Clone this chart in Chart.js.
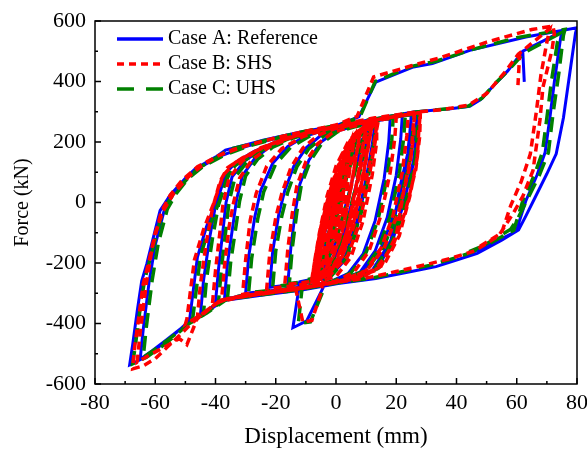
<!DOCTYPE html>
<html><head><meta charset="utf-8">
<script src="https://cdn.jsdelivr.net/npm/chart.js@4/dist/chart.umd.min.js"></script>
<style>html,body{margin:0;padding:0;background:#fff}#c{display:block}</style>
</head><body>
<canvas id="c" width="587" height="452"></canvas>
<script>
const seriesNames = ['Case A: Reference', 'Case B: SHS', 'Case C: UHS'];
const seriesColors = ['#0000ff', '#ff0000', '#008000'];
const xTickValues = [-80, -60, -40, -20, 0, 20, 40, 60, 80];
const xMinorValues = [-70, -50, -30, -10, 10, 30, 50, 70];
const yTickValues = [-600, -400, -200, 0, 200, 400, 600];
const yMinorValues = [-500, -300, -100, 100, 300, 500];

// Case A: Reference (displacement mm, force kN)
const caseA_disp = [0,2,3,1,-1,-2,0,3,5,3,0,-3,-4,-2,2,6,7,5,1,-3,-5,-6,-4,0,4,8,10,8,4,0,-4,-7,-8,-6,-2,3,7,11,12,10,7,3,-1,-5,-12,-14.3,-9.7,-4.3,-2,1,4,8,13,
 12,10,7,3,-3,-10,-16,
 -15,-13.5,-12,-9,-5,0,6,13,
 12,10,7,3,-2,-8,-15,-22,
 -21,-19,-17,-14,-10,-5,0,6,12,18,
 17.5,16,13,9,4,-2,-10,-20,-30,
 -29,-27,-25,-21,-16,-10,-3,4,12,22,
 21.5,20,17,13,8,0,-10,-20,-30,-37,
 -36,-34,-33,-31,-27,-22,-15,-6,4,14,25,
 24.8,23.5,20,15,9,1,-9,-20,-31,-40,
 -39,-37.5,-36.5,-34.5,-30,-24,-16,-6,4,14,25,
 24.5,23.8,21,18.2,13,6,-4,-15,-28,-37,-41,-45,
 -44,-42,-40,-37,-35,-30,-24,-16,-6,5,16,27,
 26.5,26,23,19,14,8,0,-12,-24,-37,-44,-49,
 -48.5,-46,-43,-39.5,-36.7,-33,-27,-20,-10,0,10,20,27,
 26.8,25.5,22,18,12,5,-5,-15,-28,-38,-45,-50,-56,-61,-65,
 -64,-62,-60,-57,-54,-50,-45,-38,-30,-20,-10,0,7.6,
 13.2,25.7,32,44.4,63,80,
 79.5,77.5,75.5,73.1,70,66,63,60.6,55,46.9,40,33.2,25,13.2,0.7,-11.8,-24.2,-36.7,-40,-44,-49,-53,-58,-64,-68.5,
 -67.5,-66,-64.5,-62.8,-60.5,-58.4,-55,-50,-46.7,-40,-36.7,-30,-24.2,-11.7,0.7,13.2,25.7,38,44.4,48,51.9,57,62,75,
 74.5,72.5,71,69.4,66.7,63,59.8,52,45,
 null,62,62.5];
const caseA_force = [0,100,140,40,-70,-120,-20,110,190,100,-50,-170,-200,-110,60,200,228,150,-20,-160,-225,-240,-160,-10,140,235,250,170,20,-130,-220,-252,-260,-180,-40,120,215,255,262,190,70,-90,-200,-248,-262,-414,-391,-282,-150,-10,110,200,262,
 190,80,-60,-180,-240,-262,-270,
 -150,-30,60,140,200,235,252,265,
 190,70,-80,-190,-245,-262,-272,-280,
 -160,-40,40,120,180,222,245,258,268,278,
 200,80,-60,-170,-235,-262,-278,-290,-300,
 -180,-50,40,130,185,220,242,256,270,287,
 210,90,-50,-160,-230,-262,-280,-295,-308,-318,
 -200,-60,10,90,145,185,215,240,258,274,292,
 220,120,-20,-150,-228,-258,-276,-292,-306,-330,
 -220,-90,0,85,140,182,213,238,257,275,292,
 230,162,40,-130,-220,-252,-270,-288,-305,-320,-345,-372,
 -260,-120,-10,80,118,145,180,212,238,258,278,296,
 240,150,20,-120,-215,-248,-265,-285,-302,-320,-370,-395,
 -380,-180,-80,7,96,135,170,200,230,250,268,283,293,
 230,120,-20,-130,-225,-255,-272,-290,-306,-325,-375,-405,-452,-490,-518,
 -420,-260,-140,-25,28,78,118,155,185,212,235,254,283,
 398,448,459,503,547,578,
 560,420,280,161,95,15,-45,-91,-125,-168,-190,-212,-228,-251,-268,-290,-306,-323,-340,-372,-394,-430,-471,-515,-537,
 -470,-360,-260,-203,-110,-27,25,80,112,150,173,190,206,233,255,277,299,310,318,340,382,435,500,565,
 540,400,280,165,90,5,-95,-135,-165,
 null,500,399];

// Case B: SHS
const caseB_disp = [0,1.5,1,0,-1,-0.5,0.5,
 1.6,1,0,-1.1,-0.5,0.8,
 2,3,2.5,1,-1,-2,-1.5,0,1.5,
 3.1,2.4,0.8,-1,-2.1,-1.4,0.2,2,
 4.5,3.8,2,0,-3,-2.5,-1,1,3,
 4.6,3.6,1.8,-0.5,-3.1,-2.3,-0.5,2,3.5,
 6,5.2,3.3,1,-2,-4.5,-3.8,-2,0.5,3,5,
 6.1,5,3,0.5,-2.5,-4.6,-3.5,-1.5,1.5,4,
 8,7,5,2.5,-1,-4,-6,-5.2,-3.5,-1,2,5,
 8.1,6.8,4.6,2,-1.5,-4.5,-6.1,-5,-3,0,3,6,
 10,9,7,4,1,-3,-7,-6.2,-4.5,-2,1,4,7,
 10.1,8.8,6.6,3.5,0,-4,-7.1,-6,-4,-1,2,6,
 12,11,9,6,2,-3,-8,-7.2,-5.5,-3,0,4,8,
 12.2,10.8,8.5,5,1,-4,-8.2,-7,-5,-2,2,6,10,14,
 13,11,8,5,1,-3,-6,-5.5,-4,-2,1,5,9,11,
 10,8,6,3,-1,-5,-7,-6,-4,-1,3,7,10,12,
 11,9.5,7.5,4,0,-4,-6.5,-5,-3,0,4,8,11,13.5,
 13.5,12,9,5,0,-6,-13.5,-11,-8,-5,-3,0,4,8,13.5,
 13,11,8,4,-2,-9,-17,
 -16,-14.5,-13,-10,-6,-1,5,13.5,
 13.5,12,9,5,0,-6,-14,-23,
 -22,-20,-18,-15,-11,-6,0,7,13,20,
 19.5,18,15,11,6,0,-10,-20,-31,
 -30,-28.5,-26.5,-23,-18,-11,-3,5,14,24,
 23.5,22,19,15,10,2,-8,-20,-30,-38,
 -37,-35.5,-34,-32,-28,-22,-14,-5,5,15,26,
 25.8,24.5,21,16,10,2,-8,-20,-31,-41,
 -40,-38.5,-37.5,-35.5,-31,-25,-16,-6,5,15,26,
 25.5,25,22.5,20,15,7,-3,-15,-27,-38,-42,-46,
 -45,-43,-41,-38.5,-36,-31,-24,-15,-5,6,17,28,
 27.5,27,24.5,21,16,9,0,-12,-25,-38,-45,-50,
 -49.5,-47,-44,-40.5,-37.5,-33.5,-27,-20,-10,0,10,20,28,
 27.8,26.5,23,19,13,5,-5,-15,-28,-39,-46,-49.5,-52,-57,-62,-66,
 -65,-63,-61,-58,-55,-51,-46,-39,-30,-20,-10,0,7,
 12.5,25,35,50,65,72,
 72.5,71.7,68.7,67.7,65.4,62,58.8,54,46,38,30,20,10,0,-12,-24,-36,-40,-44,-48,-52,-56,-60,-64,-67.5,
 -67,-65.5,-64,-62,-60,-57.5,-54,-49,-45,-39,-35,-29,-22,-10,1,13,26,36,44,50,56,60.5,71,
 70,68,66.5,64.5,61.5,58,55,47,
 null,61,60.4];
const caseB_force = [0,80,30,-30,-60,-20,30,
 85,25,-35,-65,-15,40,
 90,150,90,-20,-90,-120,-70,0,80,
 152,80,-30,-95,-125,-60,20,100,
 190,120,0,-100,-170,-110,-20,70,150,
 193,110,-10,-120,-172,-100,10,110,165,
 215,150,20,-100,-180,-215,-150,-40,70,160,200,
 218,140,0,-120,-190,-218,-130,-10,110,185,
 235,170,50,-80,-180,-225,-240,-170,-60,60,150,210,
 238,160,30,-100,-195,-230,-242,-160,-40,80,170,220,
 250,190,70,-80,-180,-232,-255,-190,-80,40,140,200,235,
 252,180,50,-100,-200,-240,-257,-180,-60,70,160,225,
 262,205,90,-60,-180,-240,-262,-200,-100,20,120,200,240,
 265,195,70,-90,-200,-250,-264,-190,-80,40,150,225,255,268,
 215,120,0,-110,-200,-240,-255,-200,-110,-10,100,190,240,255,
 210,110,0,-120,-215,-250,-258,-190,-70,50,160,225,250,260,
 200,110,20,-110,-210,-245,-256,-150,-40,70,175,232,255,268,
 200,90,-60,-180,-245,-262,-280,-396,-390,-300,-180,-40,100,200,268,
 200,85,-60,-175,-240,-262,-272,
 -155,-35,55,135,195,232,250,268,
 200,90,-60,-180,-245,-262,-275,-285,
 -170,-50,30,115,180,222,246,260,270,282,
 210,100,-40,-160,-230,-260,-280,-292,-303,
 -190,-60,30,120,178,218,243,258,274,292,
 220,100,-40,-150,-225,-258,-276,-294,-307,-322,
 -210,-80,0,80,140,185,218,242,260,276,294,
 225,120,-25,-150,-228,-258,-276,-293,-307,-333,
 -225,-95,-5,80,138,181,214,239,259,276,294,
 235,160,40,-110,-210,-250,-268,-288,-304,-322,-350,-378,
 -270,-130,-20,70,115,148,184,215,240,260,280,298,
 240,150,20,-110,-205,-245,-264,-284,-303,-322,-372,-402,
 -385,-190,-90,0,90,132,168,200,230,252,270,286,296,
 220,110,-30,-140,-225,-255,-273,-290,-306,-328,-382,-470,-450,-478,-505,-528,
 -430,-270,-150,-30,25,75,118,155,188,214,236,256,285,
 415,452,480,530,572,583,
 560,504,381,272,106,20,-36,-110,-160,-185,-205,-228,-250,-264,-285,-302,-318,-335,-368,-400,-440,-478,-516,-540,-550,
 -490,-380,-270,-190,-100,-30,28,85,118,155,172,190,208,236,257,280,298,308,322,360,430,490,575,
 530,420,300,160,70,-10,-100,-150,
 null,497,388];

// Case C: UHS
const caseC_disp = [0,2,3,1,-1,-2,0,3,5,3,0,-3,-4,-2,2,6,7,5,1,-3,-5,-6,-4,0,4,8,10,8,4,0,-4,-7,-8,-6,-2,3,7,11,12,10,7,3,-1,-5,-11,-12.5,-8.5,-4,-2,1,4,8,13.5,
 12.5,10.5,7.5,3.5,-2.5,-9.5,-15.5,
 -14.5,-13,-11.5,-8.5,-4.5,0.5,6.5,13.5,
 12.5,10.5,7.5,3.5,-1.5,-7.5,-14.5,-21,
 -20,-18,-16,-13,-9,-4,1,7,13,19,
 18.5,17,14,10,5,-1,-9,-19,-29,
 -28,-26,-24,-20,-15,-9,-2,5,13,23,
 22.5,21,18,14,9,1,-9,-19,-29,-36,
 -35,-33,-32,-30,-26,-21,-14,-5,5,15,26,
 25.6,24.2,20.8,15.8,9.8,1.5,-8.5,-19.5,-30,-39,
 -38,-36.5,-35.5,-33.5,-29,-23,-15,-5,5,15,26,
 25.5,24.8,22,19,14,7,-3,-14,-27,-36,-40,-44,
 -43,-41,-39,-36,-34,-29,-23,-15,-5,6,17,27.5,
 27,26.5,23.5,19.5,14.5,8.5,0.5,-11,-23,-36,-43,-48,
 -47.5,-45,-42,-38.5,-35.7,-32,-26,-19,-9,1,11,21,27.5,
 27.2,26,22.5,18.5,12.5,5.5,-4.5,-14.5,-27.5,-37.5,-44,-49,-55,-60,-64,
 -63,-61,-59,-56,-53,-49,-44,-37,-29,-19,-9,1,8,
 13,25,33,45,60,76,
 75.5,74,72,70.5,67.5,63.5,60.5,58,52,45,38,31,23,12,0,-12,-24,-36,-40,-44,-48,-52,-57,-63,-67.5,
 -66.5,-65,-63.5,-62,-59.5,-57.5,-54,-49,-45.5,-39,-35.7,-29,-23,-11,1,14,26.5,38,44,48.5,52.5,57.5,62.5,74.5,
 73.5,71.5,70,68.5,65.8,62,59,51,44];
const caseC_force = [0,100,145,45,-65,-115,-25,105,185,95,-45,-165,-195,-105,55,195,225,145,-25,-155,-220,-238,-155,-15,135,232,248,165,15,-125,-215,-250,-258,-175,-35,115,210,252,260,185,65,-85,-195,-245,-258,-400,-395,-285,-155,-15,105,195,264,
 188,78,-62,-178,-238,-260,-268,
 -150,-32,58,138,198,234,251,264,
 190,70,-75,-185,-242,-260,-270,-278,
 -160,-45,35,118,178,220,244,258,268,280,
 205,85,-55,-165,-232,-260,-276,-288,-298,
 -185,-55,35,128,183,218,241,256,271,289,
 215,95,-45,-155,-228,-260,-278,-293,-306,-315,
 -200,-65,5,88,143,183,214,239,258,275,294,
 222,118,-22,-148,-227,-258,-276,-292,-305,-328,
 -215,-85,2,84,141,182,213,238,257,275,294,
 232,160,35,-128,-218,-250,-268,-286,-303,-318,-342,-368,
 -255,-118,-8,82,120,147,182,213,239,259,279,297,
 240,150,18,-122,-213,-246,-264,-284,-300,-318,-366,-392,
 -378,-178,-78,9,98,137,172,202,231,251,269,285,294,
 225,115,-25,-132,-226,-255,-272,-289,-305,-323,-372,-402,-448,-485,-512,
 -415,-255,-135,-22,30,80,120,157,187,214,236,255,284,
 400,450,466,505,545,572,
 553,430,290,165,90,10,-50,-88,-125,-165,-188,-208,-226,-250,-266,-288,-304,-320,-338,-370,-394,-428,-470,-512,-533,
 -465,-350,-255,-198,-105,-25,27,82,115,152,175,191,207,234,256,278,299,311,319,345,390,440,495,560,
 530,400,280,165,90,5,-92,-135,-163];

function toPoints(xs, ys) {
  const n = Math.min(xs.length, ys.length);
  const out = [];
  for (let i = 0; i < n; i++) out.push({x: xs[i], y: ys[i]});
  return out;
}

const legendDashes = [[], [7, 5], [17, 12]];
const lineDashes = [[], [8, 5], [15, 8]];
const lineWidths = [3, 3.5, 3.5];
const serif = '"Liberation Serif", "Times New Roman", serif';

const framePlugin = {
  id: 'frameTicksLegend',
  afterDatasetsDraw(chart) {
    const {ctx, chartArea: a, scales: {x, y}} = chart;
    ctx.save();
    ctx.strokeStyle = '#000';
    ctx.lineWidth = 1.5;
    ctx.setLineDash([]);
    ctx.strokeRect(a.left, a.top, a.right - a.left, a.bottom - a.top);
    ctx.beginPath();
    xTickValues.forEach(v => { const p = x.getPixelForValue(v); ctx.moveTo(p, a.bottom); ctx.lineTo(p, a.bottom - 6); });
    xMinorValues.forEach(v => { const p = x.getPixelForValue(v); ctx.moveTo(p, a.bottom); ctx.lineTo(p, a.bottom - 3); });
    yTickValues.forEach(v => { const p = y.getPixelForValue(v); ctx.moveTo(a.left, p); ctx.lineTo(a.left + 6, p); });
    yMinorValues.forEach(v => { const p = y.getPixelForValue(v); ctx.moveTo(a.left, p); ctx.lineTo(a.left + 3, p); });
    ctx.stroke();
    const x0 = a.left + 22, x1 = a.left + 68, tx = a.left + 73;
    ctx.font = '20px ' + serif;
    ctx.textBaseline = 'middle';
    ctx.textAlign = 'left';
    seriesNames.forEach((name, i) => {
      const yy = a.top + 18 + i * 25;
      ctx.beginPath();
      ctx.strokeStyle = seriesColors[i];
      ctx.lineWidth = 3.5;
      ctx.setLineDash(legendDashes[i]);
      ctx.moveTo(x0, yy); ctx.lineTo(x1, yy);
      ctx.stroke();
      ctx.setLineDash([]);
      ctx.fillStyle = '#000';
      ctx.fillText(name, tx, yy);
    });
    ctx.restore();
  }
};

const seriesX = [caseA_disp, caseB_disp, caseC_disp];
const seriesY = [caseA_force, caseB_force, caseC_force];
const drawOrder = [2, 0, 1];

const datasets = seriesNames.map((name, i) => ({
  label: name,
  data: toPoints(seriesX[i], seriesY[i]),
  showLine: true,
  borderColor: seriesColors[i],
  backgroundColor: seriesColors[i],
  borderWidth: lineWidths[i],
  borderDash: lineDashes[i],
  pointRadius: 0,
  pointHoverRadius: 0,
  tension: 0,
  fill: false,
  spanGaps: false,
  order: drawOrder[i]
}));

new Chart(document.getElementById('c'), {
  type: 'scatter',
  data: { datasets },
  options: {
    responsive: false,
    animation: false,
    events: [],
    layout: { padding: { left: 0, right: 10, top: 21, bottom: 0 } },
    plugins: { legend: { display: false }, tooltip: { enabled: false } },
    scales: {
      x: {
        type: 'linear', min: -80, max: 80,
        afterBuildTicks: s => { s.ticks = xTickValues.map(v => ({ value: v })); },
        ticks: { font: { family: serif, size: 22 }, color: '#000', padding: 6, maxRotation: 0, autoSkip: false, callback: v => String(v) },
        grid: { display: false, drawTicks: false },
        border: { display: false },
        title: { display: true, text: 'Displacement (mm)', font: { family: serif, size: 23 }, color: '#000', padding: { top: 0, bottom: 1 } },
        afterFit: s => { s.height = 68; s.paddingLeft = 0; s.paddingRight = 0; }
      },
      y: {
        type: 'linear', min: -600, max: 600,
        afterBuildTicks: s => { s.ticks = yTickValues.map(v => ({ value: v })); },
        ticks: { font: { family: serif, size: 22 }, color: '#000', padding: 9, autoSkip: false, callback: v => String(v) },
        grid: { display: false, drawTicks: false },
        border: { display: false },
        title: { display: true, text: 'Force (kN)', font: { family: serif, size: 20 }, color: '#000', padding: { top: 11, bottom: 0 } },
        afterFit: s => { s.width = 95; s.paddingTop = 0; s.paddingBottom = 0; }
      }
    }
  },
  plugins: [framePlugin]
});
</script>
</body></html>
